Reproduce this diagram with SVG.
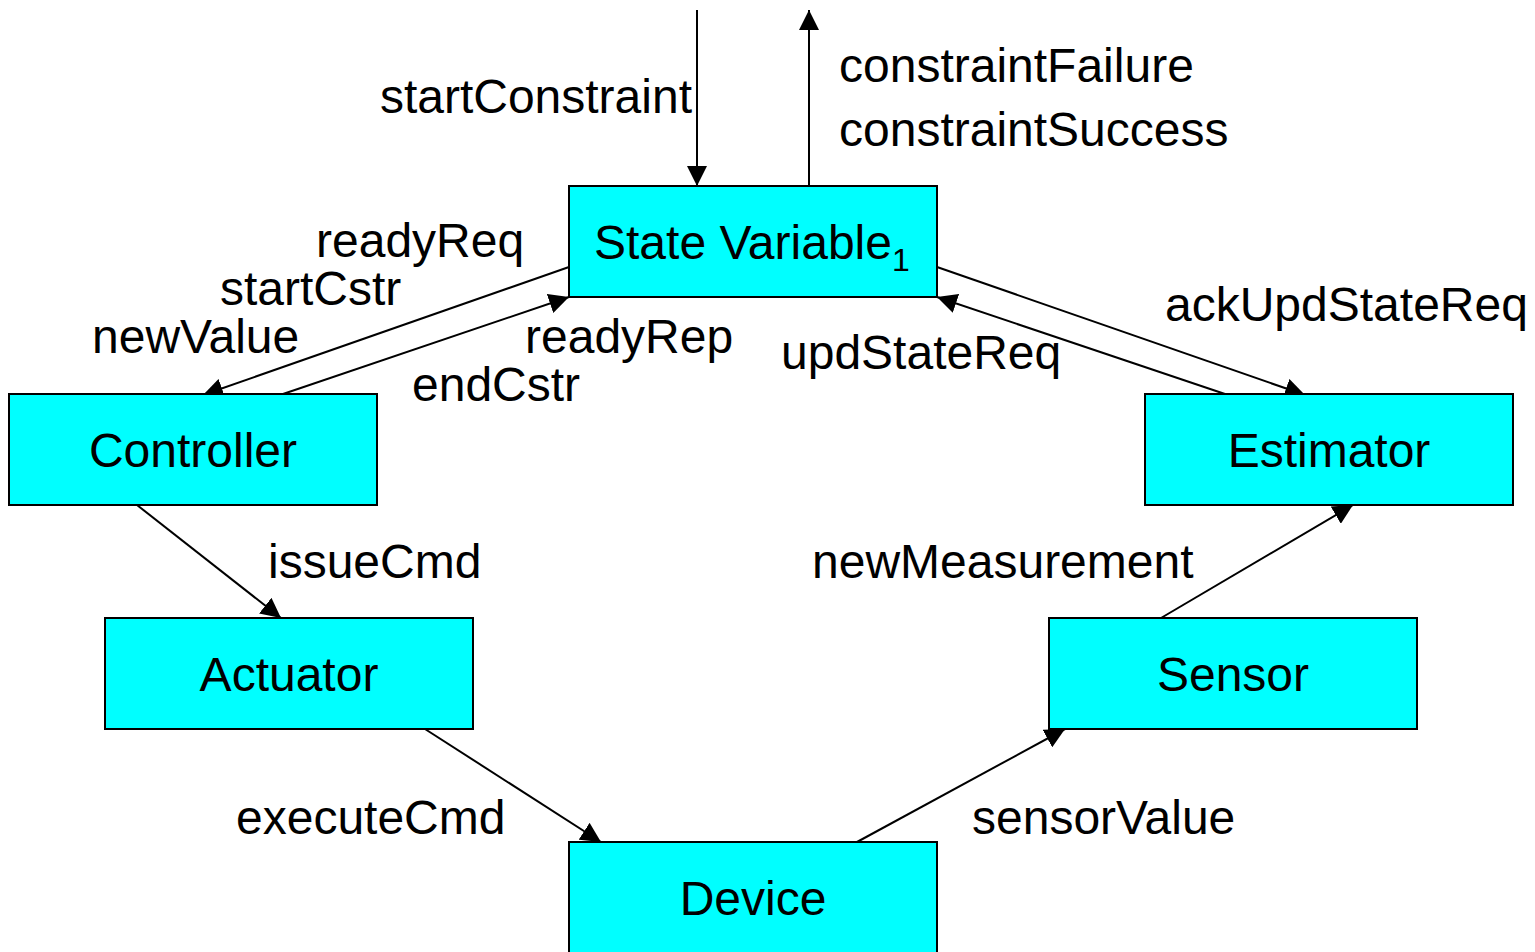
<svg xmlns="http://www.w3.org/2000/svg" width="1535" height="952" viewBox="0 0 1535 952">
  <style>
    .box { fill: #00ffff; stroke: #000; stroke-width: 2; }
    .lbl { font-family: "Liberation Sans", Arial, sans-serif; font-size: 48px; fill: #000; }
    .mid { text-anchor: middle; }
    .end { text-anchor: end; }
    .edge { stroke: #000; stroke-width: 2; fill: none; marker-end: url(#arrow); }
  </style>
  <defs>
    <marker id="arrow" viewBox="0 0 20 20" refX="20" refY="10" markerWidth="20" markerHeight="20" markerUnits="userSpaceOnUse" orient="auto">
      <path d="M0,0 L20,10 L0,20 Z" fill="#000"/>
    </marker>
  </defs>
  <rect width="1535" height="952" fill="#fff"/>

  <g id="connectors">
    <line class="edge" x1="697" y1="10" x2="697" y2="186"/>
    <line class="edge" x1="809" y1="186" x2="809" y2="10"/>
    <line class="edge" x1="569" y1="267" x2="203" y2="395"/>
    <line class="edge" x1="283" y1="394" x2="569" y2="297"/>
    <line class="edge" x1="937" y1="267" x2="1305" y2="395"/>
    <line class="edge" x1="1225" y1="394" x2="937" y2="297"/>
    <line class="edge" x1="137" y1="505" x2="281" y2="618"/>
    <line class="edge" x1="425" y1="729" x2="601" y2="842"/>
    <line class="edge" x1="857" y1="842" x2="1065" y2="729"/>
    <line class="edge" x1="1161" y1="618" x2="1353" y2="505"/>
  </g>

  <g id="connector-labels">
    <text class="lbl end" x="692" y="113">startConstraint</text>
    <text class="lbl" x="839" y="82">constraintFailure</text>
    <text class="lbl" x="839" y="146">constraintSuccess</text>
    <text class="lbl" x="316" y="257">readyReq</text>
    <text class="lbl" x="220" y="305">startCstr</text>
    <text class="lbl" x="92" y="353">newValue</text>
    <text class="lbl" x="525" y="353">readyRep</text>
    <text class="lbl" x="412" y="401">endCstr</text>
    <text class="lbl" x="781" y="369">updStateReq</text>
    <text class="lbl" x="1165" y="321">ackUpdStateReq</text>
    <text class="lbl" x="268" y="578">issueCmd</text>
    <text class="lbl" x="812" y="578">newMeasurement</text>
    <text class="lbl" x="236" y="834">executeCmd</text>
    <text class="lbl" x="972" y="834">sensorValue</text>
  </g>

  <g id="state-variable">
    <rect class="box" x="569" y="186" width="368" height="111"/>
    <text class="lbl" x="594" y="259">State Variable<tspan font-size="32" dy="12">1</tspan></text>
  </g>
  <g id="controller">
    <rect class="box" x="9" y="394" width="368" height="111"/>
    <text class="lbl mid" x="193" y="467">Controller</text>
  </g>
  <g id="estimator">
    <rect class="box" x="1145" y="394" width="368" height="111"/>
    <text class="lbl mid" x="1329" y="467">Estimator</text>
  </g>
  <g id="actuator">
    <rect class="box" x="105" y="618" width="368" height="111"/>
    <text class="lbl mid" x="289" y="691">Actuator</text>
  </g>
  <g id="sensor">
    <rect class="box" x="1049" y="618" width="368" height="111"/>
    <text class="lbl mid" x="1233" y="691">Sensor</text>
  </g>
  <g id="device">
    <rect class="box" x="569" y="842" width="368" height="120"/>
    <text class="lbl mid" x="753" y="915">Device</text>
  </g>
</svg>
